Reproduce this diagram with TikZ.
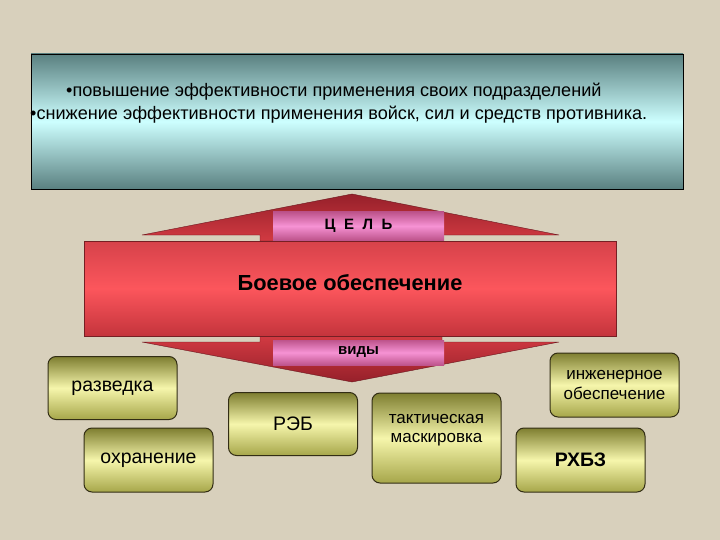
\documentclass[tikz,border=0pt]{standalone}
\usepackage{fontspec}
\setmainfont{Liberation Sans}
\usepackage{color}
\definecolor{paper}{RGB}{216,208,188}
\definecolor{tealdark}{RGB}{90,128,128}
\definecolor{teallight}{RGB}{205,255,255}
\definecolor{tipdark}{RGB}{150,32,42}
\definecolor{tiplight}{RGB}{210,58,66}
\definecolor{redtop}{RGB}{214,66,74}
\definecolor{redmid}{RGB}{252,86,92}
\definecolor{redbottom}{RGB}{196,52,60}
\definecolor{pinkdark}{RGB}{190,84,140}
\definecolor{pinklight}{RGB}{246,146,212}
\definecolor{olivetop}{RGB}{126,126,48}
\definecolor{olivemid}{RGB}{246,246,172}
\definecolor{olivebottom}{RGB}{166,166,74}
\definecolor{oliveline}{RGB}{50,45,20}
\usepackage{tikz}
\newcommand{\widthkind}{129pt}
\newcommand{\heightkind}{63pt}
\newcommand{\fs}[1]{\fontsize{#1}{1.15\dimexpr#1pt\relax}\selectfont}
\tikzset{
    common/.style={draw, rectangle, inner sep=0pt},
    aim/.style={common, minimum width=652pt, minimum height=135pt,
        top color=tealdark, bottom color=tealdark, middle color=teallight},
    aimline/.style={anchor=west, inner sep=0pt, font=\fs{18.1}},
    support/.style={common, draw=redbottom!60!black, minimum width=532pt, minimum height=95pt,
        top color=redtop, bottom color=redbottom, middle color=redmid},
    wingup/.style={draw=tipdark!70!black, top color=tipdark, bottom color=tiplight},
    wingdown/.style={draw=tipdark!70!black, top color=tiplight, bottom color=tipdark},
    tag/.style={rectangle, minimum width=171pt, inner sep=0pt,
        top color=pinkdark, bottom color=pinkdark, middle color=pinklight},
    kind/.style={common, draw=oliveline, line width=1pt, rounded corners=8pt,
        minimum width=\widthkind, minimum height=\heightkind, align=center,
        top color=olivetop, bottom color=olivebottom, middle color=olivemid, font=\fs{19.5}},
    kind2/.style={kind, font=\fs{17}}
}

\begin{document}
\begin{tikzpicture}[x=1pt, y=-1pt]
    \useasboundingbox[fill=paper] (0,0) rectangle (720,540);
    % goal panel
    \node[aim] (goal) at (357,121.5) {};
    \node[aimline] (line1) at (66,92) {•повышение эффективности применения своих подразделений};
    \node[aimline] (line2) at (30,115) {•снижение эффективности применения войск, сил и средств противника.};
    % arrows through the main block
    \draw[wingup] (260,241) -- (260,235) -- (142,235) -- (352,194) -- (559,235) -- (442,235) -- (442,241) -- cycle;
    \draw[wingdown] (260,336) -- (260,342) -- (142,342) -- (352,382) -- (559,342) -- (442,342) -- (442,336) -- cycle;
    \node[support] (main) at (350,288.5) {};
    \node[font=\fs{21.8}\bfseries] (title) at (350,283) {Боевое обеспечение};
    \node[tag, minimum height=28pt, font=\fs{15}\bfseries] (aimtag) at (358.5,226) {{\spaceskip=8.5pt Ц Е Л Ь}};
    \node[tag, minimum height=25pt, font=\fs{15}\bfseries] (kindtag) at (358.5,352.5) {виды};
    % kinds
    \node[kind] (recon) at (112.5,388) {разведка};
    \node[kind, minimum height=64pt] (guard) at (148.5,460) {охранение};
    \node[kind] (ew) at (293,424) {РЭБ};
    \node[kind2, minimum height=90pt] (mask) at (436.5,438) {тактическая\\маскировка\\\mbox{}};
    \node[kind2, minimum height=64pt] (eng) at (614.5,385) {инженерное\\обеспечение};
    \node[kind, minimum height=64pt, font=\fs{19.5}\bfseries] (nbc) at (580.5,460) {РХБЗ};
\end{tikzpicture}
\end{document}
